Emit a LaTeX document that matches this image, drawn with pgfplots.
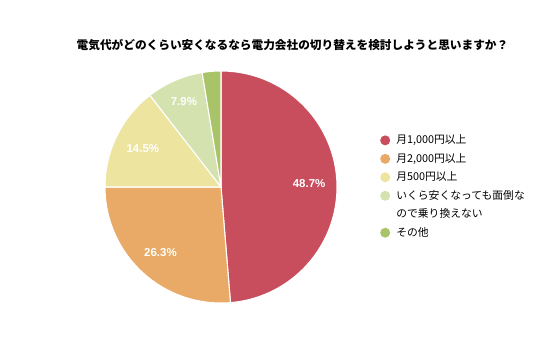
\documentclass[border=0pt]{standalone}
\usepackage{pgfplots}
\pgfplotsset{compat=1.18}
\usepackage{fontspec}
\setmainfont{Noto Sans CJK JP}
\newfontfamily\latinfont{Liberation Sans}
\definecolor{cA}{HTML}{C84E5D}
\definecolor{cB}{HTML}{E8AA66}
\definecolor{cC}{HTML}{EDE49F}
\definecolor{cD}{HTML}{D4E2AF}
\definecolor{cE}{HTML}{A9C468}
% values (%)
\def\vA{48.7}\def\vB{26.3}\def\vC{14.5}\def\vD{7.9}\def\vE{2.6}
\begin{document}
\begin{tikzpicture}[x=0.75pt,y=0.75pt]
\useasboundingbox (0,0) rectangle (536,357);
\pgfmathsetmacro\aA{90}
\pgfmathsetmacro\aB{\aA-3.6*\vA}
\pgfmathsetmacro\aC{\aB-3.6*\vB}
\pgfmathsetmacro\aD{\aC-3.6*\vC}
\pgfmathsetmacro\aE{\aD-3.6*\vD}
\pgfmathsetmacro\aF{\aE-3.6*\vE}
\pgfmathsetmacro\mA{(\aA+\aB)/2}
\pgfmathsetmacro\mB{(\aB+\aC)/2}
\pgfmathsetmacro\mC{(\aC+\aD)/2}
\pgfmathsetmacro\mD{(\aD+\aE)/2}
\pgfmathsetmacro\xA{0.76*cos(\mA)}\pgfmathsetmacro\yA{0.76*sin(\mA)}
\pgfmathsetmacro\xB{0.77*cos(\mB)}\pgfmathsetmacro\yB{0.77*sin(\mB)}
\pgfmathsetmacro\xC{0.75*cos(\mC)}\pgfmathsetmacro\yC{0.75*sin(\mC)}
\pgfmathsetmacro\xD{0.80*cos(\mD)}\pgfmathsetmacro\yD{0.80*sin(\mD)}
\node[font=\bfseries\fontsize{8.75pt}{10pt}\selectfont] at (292.5,312) {電気代がどのくらい安くなるなら電力会社の切り替えを検討しようと思いますか？};
\begin{axis}[
  at={(165.75pt,127.5pt)}, anchor=center,
  width=174pt, height=174pt, scale only axis,
  xmin=-1, xmax=1, ymin=-1, ymax=1,
  hide axis, clip=false,
  legend image code/.code={\fill[#1,draw=none] (3.75pt,0pt) circle (3.75pt);},
  legend cell align=left,
  legend style={draw=none, fill=none, at={(1.185,0.728)}, anchor=north west,
    font=\fontsize{8.1pt}{9pt}\selectfont, row sep=4.85pt, inner sep=0pt,
    nodes={text height=7pt, text depth=2pt, inner ysep=0pt, inner xsep=4.6pt},
    cells={anchor=west}},
  every axis plot/.append style={draw=white, line width=0.8pt, samples=120},
]
\addplot[fill=cA, domain=\aB:\aA] ({cos(x)},{sin(x)}) -- (axis cs:0,0) -- cycle;
\addlegendentry{月1,000円以上}
\addplot[fill=cB, domain=\aC:\aB] ({cos(x)},{sin(x)}) -- (axis cs:0,0) -- cycle;
\addlegendentry{月2,000円以上}
\addplot[fill=cC, domain=\aD:\aC] ({cos(x)},{sin(x)}) -- (axis cs:0,0) -- cycle;
\addlegendentry{月500円以上}
\addplot[fill=cD, domain=\aE:\aD] ({cos(x)},{sin(x)}) -- (axis cs:0,0) -- cycle;
\addlegendentry{いくら安くなっても面倒な}
\addlegendimage{empty legend}
\addlegendentry{ので乗り換えない}
\addplot[fill=cE, domain=\aF:\aE] ({cos(x)},{sin(x)}) -- (axis cs:0,0) -- cycle;
\addlegendentry{その他}
\node[text=white, font=\latinfont\bfseries\fontsize{8.6pt}{9pt}\selectfont] at (axis cs:\xA,\yA) {48.7\%};
\node[text=white, font=\latinfont\bfseries\fontsize{8.6pt}{9pt}\selectfont] at (axis cs:\xB,\yB) {26.3\%};
\node[text=white, font=\latinfont\bfseries\fontsize{8.6pt}{9pt}\selectfont] at (axis cs:\xC,\yC) {14.5\%};
\node[text=white, font=\latinfont\bfseries\fontsize{8.6pt}{9pt}\selectfont] at (axis cs:\xD,\yD) {7.9\%};
\end{axis}
\end{tikzpicture}
\end{document}
